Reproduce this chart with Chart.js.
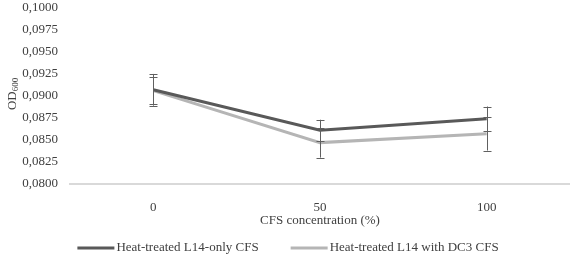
<!DOCTYPE html>
<html>
<head>
<meta charset="utf-8">
<script src="https://cdn.jsdelivr.net/npm/chart.js@4"></script>
<style>
html,body{margin:0;padding:0;background:#fff;}
#wrap{width:570px;height:257px;}
</style>
</head>
<body>
<div id="wrap"><canvas id="c" width="570" height="257"></canvas></div>
<script>
const categories = ['0', '50', '100'];
const seriesNames = ['Heat-treated L14-only CFS', 'Heat-treated L14 with DC3 CFS'];
const l14Only = [0.0907, 0.0861, 0.0874];
const l14Dc3 = [0.0906, 0.0847, 0.0857];
const l14OnlyErr = [0.0018, 0.0012, 0.0014];
const l14Dc3Err = [0.0015, 0.0017, 0.0019];
const yMin = 0.08, yMax = 0.1, yStep = 0.0025;

const FONT = "'Liberation Serif','Times New Roman',serif";
const TEXT = '#404040';

const errorBars = {
  id: 'errorBars',
  afterDatasetsDraw(chart) {
    const ctx = chart.ctx;
    const ys = chart.scales.y;
    const errs = [l14OnlyErr, l14Dc3Err];
    ctx.save();
    ctx.strokeStyle = '#606060';
    ctx.lineWidth = 1;
    chart.data.datasets.forEach((ds, i) => {
      const meta = chart.getDatasetMeta(i);
      meta.data.forEach((pt, j) => {
        const v = ds.data[j], e = errs[i][j];
        const x = Math.round(pt.x) + 0.5;
        const yt = ys.getPixelForValue(v + e);
        const yb = ys.getPixelForValue(v - e);
        ctx.beginPath();
        ctx.moveTo(x, yt); ctx.lineTo(x, yb);
        ctx.moveTo(x - 4, Math.round(yt) + 0.5); ctx.lineTo(x + 4, Math.round(yt) + 0.5);
        ctx.moveTo(x - 4, Math.round(yb) + 0.5); ctx.lineTo(x + 4, Math.round(yb) + 0.5);
        ctx.stroke();
      });
    });
    ctx.restore();
  }
};

const yTitle = {
  id: 'yTitle',
  afterDraw(chart) {
    const ctx = chart.ctx;
    const a = chart.chartArea;
    ctx.save();
    ctx.translate(16, (a.top + a.bottom) / 2 - 2);
    ctx.rotate(-Math.PI / 2);
    ctx.fillStyle = TEXT;
    ctx.textBaseline = 'alphabetic';
    ctx.font = '13px ' + FONT;
    const w1 = ctx.measureText('OD').width;
    ctx.font = '9px ' + FONT;
    const w2 = ctx.measureText('600').width;
    const start = -(w1 + w2) / 2;
    ctx.font = '13px ' + FONT;
    ctx.textAlign = 'left';
    ctx.fillText('OD', start, 0);
    ctx.font = '9px ' + FONT;
    ctx.fillText('600', start + w1, 2);
    ctx.restore();
  }
};

const bottomLegend = {
  id: 'bottomLegend',
  afterDraw(chart) {
    const ctx = chart.ctx;
    ctx.save();
    ctx.font = '13px ' + FONT;
    ctx.textBaseline = 'middle';
    ctx.textAlign = 'left';
    const box = 37, gapText = 2, gapItem = 32, cy = 248;
    const ds = chart.data.datasets;
    const widths = ds.map(d => ctx.measureText(d.label).width);
    let total = 0;
    widths.forEach((w, i) => { total += box + gapText + w + (i ? gapItem : 0); });
    let x = 288 - total / 2;
    ds.forEach((d, i) => {
      ctx.fillStyle = d.borderColor;
      ctx.fillRect(x, cy - 1.5, box, 3);
      ctx.fillStyle = TEXT;
      ctx.fillText(d.label, x + box + gapText, cy);
      x += box + gapText + widths[i] + gapItem;
    });
    ctx.restore();
  }
};

new Chart(document.getElementById('c'), {
  type: 'line',
  data: {
    labels: categories,
    datasets: [
      { label: seriesNames[0], data: l14Only, borderColor: '#595959', backgroundColor: '#595959', borderWidth: 3, pointRadius: 0, tension: 0 },
      { label: seriesNames[1], data: l14Dc3, borderColor: '#b5b5b5', backgroundColor: '#b5b5b5', borderWidth: 3, pointRadius: 0, tension: 0 }
    ]
  },
  options: {
    responsive: false,
    animation: false,
    layout: { padding: { top: 0, right: 0, left: 0, bottom: 13 } },
    plugins: {
      legend: { display: false },
      tooltip: { enabled: false }
    },
    scales: {
      x: {
        type: 'category',
        offset: true,
        grid: { display: false },
        border: { display: true, color: '#d9d9d9', width: 2 },
        afterFit(s) { s.height = 60; },
        ticks: { color: TEXT, font: { family: FONT, size: 13 }, padding: 8 },
        title: { display: true, text: 'CFS concentration (%)', color: TEXT, font: { family: FONT, size: 13 }, padding: { top: 2, bottom: 16 } }
      },
      y: {
        min: yMin, max: yMax,
        grid: { display: false },
        border: { display: false },
        afterFit(s) { s.width = 70; },
        ticks: {
          stepSize: yStep, autoSkip: false, color: TEXT, font: { family: FONT, size: 13, lineHeight: 0.6 }, padding: 4,
          callback: v => v.toFixed(4).replace('.', ',')
        }
      }
    }
  },
  plugins: [errorBars, yTitle, bottomLegend]
});
</script>
</body>
</html>
